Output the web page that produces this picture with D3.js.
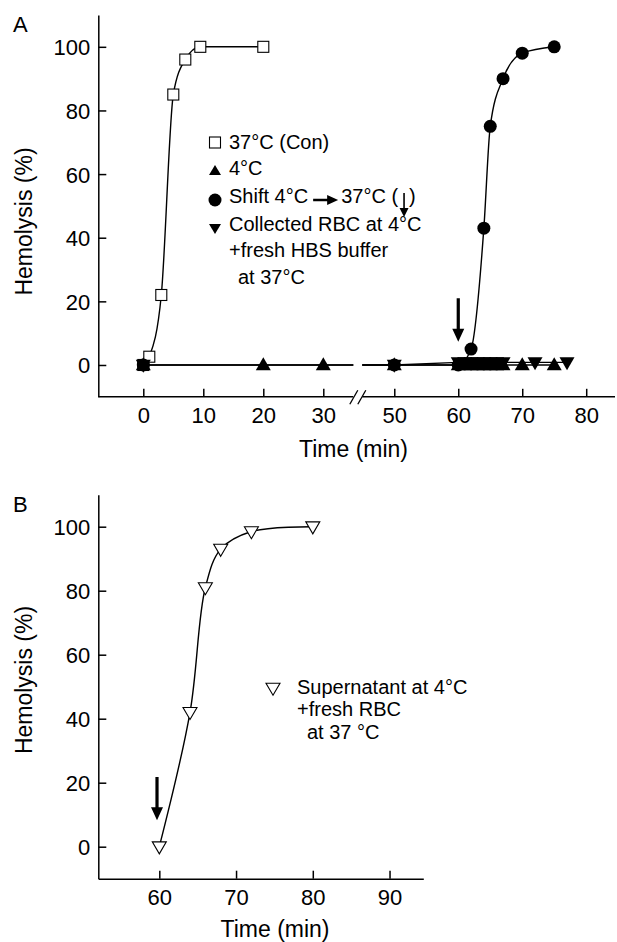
<!DOCTYPE html>
<html>
<head>
<meta charset="utf-8">
<script src="https://cdn.jsdelivr.net/npm/d3@7"></script>
<style>
body { margin: 0; background: #fff; }
svg text { font-family: "Liberation Sans", Arial, sans-serif; fill: #000; }
</style>
</head>
<body>
<svg id="chart" width="617" height="942"></svg>
<script>
// ---- Panel A data (time in min, hemolysis in %) ----
const conTimes = [0, 1, 3, 5, 7, 9.5, 20];
const conVals = [0, 2.6, 22, 85, 96, 100, 100];
const coldTimes = [0, 20, 30, 50, 60, 61, 62, 63, 64, 65, 66, 67, 70, 75];
const coldVals = [0, 0, 0, 0, 0, 0, 0, 0, 0, 0, 0, 0, 0, 0];
const shiftTimes = [0, 50, 60, 62, 64, 65, 67, 70, 75];
const shiftVals = [0, 0, 0, 5, 43, 75, 90, 98, 100];
const collTimes = [0, 50, 60, 61, 62, 63, 64, 65, 66, 67, 72, 77];
const collVals = [0, 0, 0.8, 0.8, 0.8, 0.8, 0.8, 0.8, 0.8, 0.8, 0.8, 0.8];

// ---- Panel B data ----
const superTimes = [60, 64, 66, 68, 72, 80];
const superVals = [0, 42, 81, 93, 98.5, 100];

// ticks
const yTicks = [0, 20, 40, 60, 80, 100];
const xTicksA = [0, 10, 20, 30, 50, 60, 70, 80];
const xTicksB = [60, 70, 80, 90];

// axis break on panel A (min)
const breakA = [35, 45];

// arrows: [time, from value, to value]
const arrowA = [60, 21, 7.3];
const arrowB = [59.7, 21.8, 8.3];

const svg = d3.select('#chart');
const zip = (ts, vs) => ts.map((t, i) => ({ t: t, v: vs[i] }));

// Scales
const xA = d3.scaleLinear().domain([-7.5, breakA[0], breakA[1], 84.5]).range([98.3, 353.3, 362.3, 615]);
const yA = d3.scaleLinear().domain([-10, 110]).range([396.8, 15]);
const xB = d3.scaleLinear().domain([52.05, 94.4]).range([98.3, 423.3]);
const yB = d3.scaleLinear().domain([-10, 110]).range([878.7, 494.7]);

// Marker shapes
const upTri = (w, h) => `M0,${-h * 0.6}L${w / 2},${h * 0.4}L${-w / 2},${h * 0.4}Z`;
const downTri = (w, h) => `M0,${h * 0.6}L${w / 2},${-h * 0.4}L${-w / 2},${-h * 0.4}Z`;

function drawAxes(g, x, y, xTicks, bottom) {
    const ya = g.append('g')
        .attr('transform', `translate(${x.range()[0]},0)`)
        .call(d3.axisLeft(y).tickValues(yTicks).tickSize(-8).tickSizeOuter(0).tickPadding(8));
    ya.selectAll('text').style('font-size', '22px').attr('dy', '0.36em');
    const xa = g.append('g')
        .attr('transform', `translate(0,${bottom})`)
        .call(d3.axisBottom(x).tickValues(xTicks).tickSize(-8).tickSizeOuter(0).tickPadding(11));
    xa.selectAll('text').style('font-size', '22px');
    g.selectAll('.domain, .tick line').attr('stroke', '#000').attr('stroke-width', 1.5);
    return xa;
}

// Split a series at the axis break, closing each piece at the break edges
function splitAtBreak(pts) {
    const left = pts.filter(d => d.t < breakA[0]);
    const right = pts.filter(d => d.t > breakA[1]);
    if (left.length && right.length) {
        left.push({ t: breakA[0], v: left[left.length - 1].v });
        right.unshift({ t: breakA[1], v: right[0].v });
    }
    return [left, right].filter(p => p.length > 1);
}

function arrow(g, x, y, a, shaft, headW, headH) {
    const cx = x(a[0]);
    const y0 = y(a[1]);
    const y1 = y(a[2]);
    g.append('path')
        .attr('d', `M${cx - shaft / 2},${y0}L${cx + shaft / 2},${y0}L${cx + shaft / 2},${y1 - headH}` +
            `L${cx + headW / 2},${y1 - headH}L${cx},${y1}L${cx - headW / 2},${y1 - headH}` +
            `L${cx - shaft / 2},${y1 - headH}Z`)
        .attr('fill', '#000');
}

// ================= Panel A =================
const gA = svg.append('g');
const xaxA = drawAxes(gA, xA, yA, xTicksA, yA(-10));
xaxA.select('.domain').remove();
// broken x axis line
[[xA.range()[0], xA(breakA[0])], [xA(breakA[1]), xA.range()[3]]].forEach(s => {
    gA.append('line').attr('x1', s[0]).attr('x2', s[1])
        .attr('y1', yA(-10)).attr('y2', yA(-10))
        .attr('stroke', '#000').attr('stroke-width', 1.5);
});
[xA(breakA[0]) + 0.5, xA(breakA[1]) - 0.5].forEach(cx => {
    gA.append('line').attr('x1', cx - 4).attr('y1', yA(-10) + 7.5)
        .attr('x2', cx + 4).attr('y2', yA(-10) - 6.5)
        .attr('stroke', '#000').attr('stroke-width', 1.3);
});

const lineA = d3.line().x(d => xA(d.t)).y(d => yA(d.v));
const curveA = d3.line().x(d => xA(d.t)).y(d => yA(d.v)).curve(d3.curveMonotoneX);

const conPts = zip(conTimes, conVals);
const coldPts = zip(coldTimes, coldVals);
const shiftPts = zip(shiftTimes, shiftVals);
const collPts = zip(collTimes, collVals);

splitAtBreak(coldPts).concat(splitAtBreak(collPts)).forEach(seg => {
    gA.append('path').attr('d', lineA(seg))
        .attr('fill', 'none').attr('stroke', '#000').attr('stroke-width', 1.3);
});
gA.append('path').attr('d', curveA(conPts))
    .attr('fill', 'none').attr('stroke', '#000').attr('stroke-width', 1.4);
const shiftFit = [{ t: breakA[1], v: 0 }].concat(shiftPts.filter(d => d.t >= 50));
gA.append('path').attr('d', curveA(shiftFit))
    .attr('fill', 'none').attr('stroke', '#000').attr('stroke-width', 1.4);

arrow(gA, xA, yA, arrowA, 3.2, 12, 13);

gA.selectAll('.sq').data(conPts).enter().append('rect')
    .attr('x', d => xA(d.t) - 5.5).attr('y', d => yA(d.v) - 5.5)
    .attr('width', 11).attr('height', 11)
    .attr('fill', '#fff').attr('stroke', '#000').attr('stroke-width', 1.1);
gA.selectAll('.cold').data(coldPts).enter().append('path')
    .attr('d', upTri(15, 13))
    .attr('transform', d => `translate(${xA(d.t)},${yA(d.v)})`).attr('fill', '#000');
gA.selectAll('.coll').data(collPts).enter().append('path')
    .attr('d', downTri(15, 13))
    .attr('transform', d => `translate(${xA(d.t)},${yA(d.v)})`).attr('fill', '#000');
gA.selectAll('.shift').data(shiftPts).enter().append('circle')
    .attr('cx', d => xA(d.t)).attr('cy', d => yA(d.v)).attr('r', 6.5).attr('fill', '#000');

// axis titles
gA.append('text').attr('x', 353.5).attr('y', 457).attr('text-anchor', 'middle')
    .style('font-size', '23px').text('Time (min)');
gA.append('text').attr('transform', 'translate(32,221.5) rotate(-90)').attr('text-anchor', 'middle')
    .style('font-size', '23px').text('Hemolysis (%)');
gA.append('text').attr('x', 13).attr('y', 32).style('font-size', '22px').text('A');

// legend A
const legA = gA.append('g').style('font-size', '20px');
legA.append('rect').attr('x', 209.5).attr('y', 137).attr('width', 11).attr('height', 11)
    .attr('fill', '#fff').attr('stroke', '#000').attr('stroke-width', 1.1);
legA.append('text').attr('x', 229).attr('y', 149).text('37°C (Con)');
legA.append('path').attr('d', upTri(12, 10)).attr('transform', 'translate(215,171)').attr('fill', '#000');
legA.append('text').attr('x', 229).attr('y', 175).text('4°C');
legA.append('circle').attr('cx', 215).attr('cy', 200).attr('r', 6.5).attr('fill', '#000');
const shiftTxt = legA.append('text').attr('x', 229).attr('y', 203).text('Shift 4°C');
let ex = 229 + shiftTxt.node().getComputedTextLength();
legA.append('path')
    .attr('d', `M${ex + 5},198.8L${ex + 19},198.8L${ex + 19},195L${ex + 30},200L${ex + 19},205L${ex + 19},201.2L${ex + 5},201.2Z`)
    .attr('fill', '#000');
const t37 = legA.append('text').attr('x', ex + 33).attr('y', 203).text('37°C (');
ex = ex + 33 + t37.node().getComputedTextLength();
legA.append('path')
    .attr('d', `M${ex + 5.2},193L${ex + 6.8},193L${ex + 6.8},208L${ex + 10.5},208L${ex + 6},217L${ex + 1.5},208L${ex + 5.2},208Z`)
    .attr('fill', '#000');
legA.append('text').attr('x', ex + 11).attr('y', 203).text(')');
legA.append('path').attr('d', downTri(12, 10)).attr('transform', 'translate(215,228)').attr('fill', '#000');
legA.append('text').attr('x', 229).attr('y', 231).text('Collected RBC at 4°C');
legA.append('text').attr('x', 229).attr('y', 257).text('+fresh HBS buffer');
legA.append('text').attr('x', 238).attr('y', 284).text('at 37°C');

// ================= Panel B =================
const gB = svg.append('g');
drawAxes(gB, xB, yB, xTicksB, yB(-10));
const superPts = zip(superTimes, superVals);
gB.append('path')
    .attr('d', d3.line().x(d => xB(d.t)).y(d => yB(d.v)).curve(d3.curveCatmullRom.alpha(0.5))(superPts))
    .attr('fill', 'none').attr('stroke', '#000').attr('stroke-width', 1.4);
arrow(gB, xB, yB, arrowB, 3.2, 12, 13);
gB.selectAll('.sup').data(superPts).enter().append('path')
    .attr('d', downTri(14, 12))
    .attr('transform', d => `translate(${xB(d.t)},${yB(d.v)})`)
    .attr('fill', '#fff').attr('stroke', '#000').attr('stroke-width', 1.1);

gB.append('text').attr('x', 275).attr('y', 937).attr('text-anchor', 'middle')
    .style('font-size', '23px').text('Time (min)');
gB.append('text').attr('transform', 'translate(32,680) rotate(-90)').attr('text-anchor', 'middle')
    .style('font-size', '23px').text('Hemolysis (%)');
gB.append('text').attr('x', 13).attr('y', 512).style('font-size', '22px').text('B');

const legB = gB.append('g').style('font-size', '20px');
legB.append('path').attr('d', downTri(14, 12)).attr('transform', 'translate(273,688)')
    .attr('fill', '#fff').attr('stroke', '#000').attr('stroke-width', 1.1);
legB.append('text').attr('x', 297).attr('y', 694).text('Supernatant at 4°C');
legB.append('text').attr('x', 297).attr('y', 716).text('+fresh RBC');
legB.append('text').attr('x', 307).attr('y', 739).text('at 37 °C');
</script>
</body>
</html>
